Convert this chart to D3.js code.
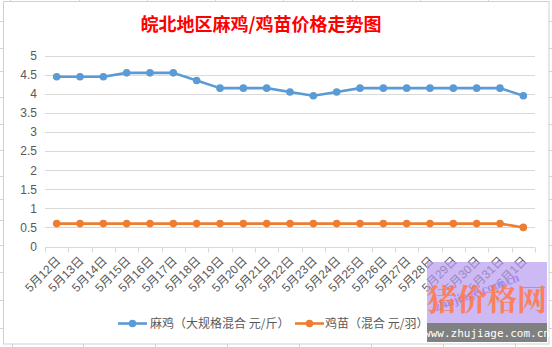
<!DOCTYPE html>
<html><head><meta charset="utf-8">
<script src="https://cdn.jsdelivr.net/npm/d3@7"></script>
<style>body{margin:0;background:#fff}svg{display:block}</style>
</head><body>
<svg id="c" width="552" height="347"></svg>
<script>
const categories = ["5月12日","5月13日","5月14日","5月15日","5月16日","5月17日","5月18日","5月19日","5月20日","5月21日","5月22日","5月23日","5月24日","5月25日","5月26日","5月27日","5月28日","5月29日","5月30日","5月31日","6月1日"];
const maji = [4.45,4.45,4.45,4.55,4.55,4.55,4.35,4.15,4.15,4.15,4.05,3.95,4.05,4.15,4.15,4.15,4.15,4.15,4.15,4.15,3.95];
const jimiao = [0.6,0.6,0.6,0.6,0.6,0.6,0.6,0.6,0.6,0.6,0.6,0.6,0.6,0.6,0.6,0.6,0.6,0.6,0.6,0.6,0.5];
const yTicks = [0,0.5,1,1.5,2,2.5,3,3.5,4,4.5,5];
const seriesNames = ["麻鸡（大规格混合 元/斤）","鸡苗（混合 元/羽）"];
const title = "皖北地区麻鸡/鸡苗价格走势图";

const svg = d3.select("#c");
const font = "'Liberation Sans','Noto Sans CJK SC',sans-serif";
const txt = "#595959";

// spreadsheet background lines
const bg = svg.append("g").attr("stroke","#d4d4d4").attr("stroke-width",1);
[21,48,71,97,124,150,176,199,220,245,272,300,328].forEach(y=>{
  bg.append("line").attr("x1",0).attr("x2",3).attr("y1",y+0.5).attr("y2",y+0.5);
  bg.append("line").attr("x1",549).attr("x2",552).attr("y1",y+0.5).attr("y2",y+0.5);
});
[10,79,147,215,283,352,420,488].forEach(x=>bg.append("line").attr("x1",x+0.5).attr("x2",x+0.5).attr("y1",0).attr("y2",1));
[12,83,155,227,299,371,443,515].forEach(x=>bg.append("line").attr("x1",x+0.5).attr("x2",x+0.5).attr("y1",344).attr("y2",347));

// chart border
svg.append("rect").attr("x",3.5).attr("y",1.5).attr("width",545.5).attr("height",342.5)
  .attr("fill","#fff").attr("stroke","#d0d0d0");

const x = d3.scalePoint().domain(categories).range([45,535]).padding(0.5);
const xb = d3.scaleBand().domain(categories).range([45,535]);
const y = d3.scaleLinear().domain([0,5]).range([246.5,55.7]);

// title
svg.append("text").attr("x",261).attr("y",31).attr("text-anchor","middle")
  .attr("fill","#FF0000").attr("font-size",18).attr("font-weight","bold")
  .attr("font-family","'Noto Sans CJK SC',sans-serif").text(title);

// gridlines
svg.append("g").selectAll("line").data(yTicks.filter(d=>d>0)).join("line")
  .attr("x1",45).attr("x2",535).attr("y1",d=>Math.round(y(d))+0.5).attr("y2",d=>Math.round(y(d))+0.5)
  .attr("stroke","#d9d9d9");

// y axis labels
const yAxis = d3.axisLeft(y).tickValues(yTicks).tickSize(0).tickPadding(0).tickFormat(d3.format("~g"));
const gy = svg.append("g").attr("transform","translate(37,0)").call(yAxis);
gy.select(".domain").remove();
gy.selectAll("text").attr("font-size",12).attr("fill",txt).attr("font-family",font);

// x axis
const xAxis = d3.axisBottom(x).tickSize(0).tickPadding(0);
const gx = svg.append("g").attr("transform",`translate(0,${Math.round(y(0))+0.5})`).call(xAxis);
gx.select(".domain").attr("stroke","#d9d9d9").attr("d","M45,0H535");
gx.selectAll(".tick text").attr("font-size",12).attr("fill",txt).attr("font-family",font)
  .attr("text-anchor","end").attr("dy",0).attr("transform","translate(4,14) rotate(-45)");
const bounds = categories.map(c=>xb(c)).concat([535]);
gx.append("g").selectAll("line").data(bounds).join("line")
  .attr("x1",d=>Math.round(d)+0.5).attr("x2",d=>Math.round(d)+0.5).attr("y1",0).attr("y2",5)
  .attr("stroke","#d9d9d9");

// series
const colors = ["#5B9BD5","#ED7D31"];
[maji,jimiao].forEach((vals,i)=>{
  const line = d3.line().x((d,j)=>x(categories[j])).y(d=>y(d));
  svg.append("path").datum(vals).attr("d",line).attr("fill","none")
    .attr("stroke",colors[i]).attr("stroke-width",2.6).attr("stroke-linejoin","round");
  svg.append("g").selectAll("circle").data(vals).join("circle")
    .attr("cx",(d,j)=>x(categories[j])).attr("cy",d=>y(d)).attr("r",3.8).attr("fill",colors[i]);
});

// legend
const leg = [{x0:118,tx:150},{x0:295,tx:325}];
leg.forEach((l,i)=>{
  const g = svg.append("g");
  g.append("line").attr("x1",l.x0).attr("x2",l.x0+29).attr("y1",323.5).attr("y2",323.5)
    .attr("stroke",colors[i]).attr("stroke-width",2.6);
  g.append("circle").attr("cx",l.x0+14.5).attr("cy",323.5).attr("r",3.8).attr("fill",colors[i]);
  g.append("text").attr("x",l.tx).attr("y",328).attr("font-size",12).attr("fill",txt)
    .attr("font-family","'Noto Sans CJK SC',sans-serif").text(seriesNames[i]);
});

// watermark
const wm = svg.append("g");
wm.append("rect").attr("x",427).attr("y",262).attr("width",120).attr("height",61)
  .attr("fill","#B89BEE").attr("opacity",0.7);
wm.append("text").attr("x",478).attr("y",296).attr("text-anchor","middle")
  .attr("transform","rotate(-20,478,296)").attr("font-size",13).attr("font-weight","bold")
  .attr("fill","#A58BE8").attr("font-family","'Liberation Serif',serif").text("zhujiage.com.cn");
wm.append("text").attr("x",487).attr("y",310).attr("text-anchor","middle")
  .attr("font-size",30).attr("font-weight","bold").attr("fill","#FF7A50").attr("opacity",0.9)
  .attr("font-family","'Noto Serif CJK SC','Noto Sans CJK SC',serif").text("猪价格网");
wm.append("rect").attr("x",427).attr("y",323).attr("width",120).attr("height",19).attr("fill","#808080");
wm.append("text").attr("x",487).attr("y",337).attr("text-anchor","middle").attr("font-size",11)
  .attr("fill","#fff").attr("font-family","'DejaVu Sans Mono','Liberation Mono',monospace").text("www.zhujiage.com.cn");
</script>
</body></html>
